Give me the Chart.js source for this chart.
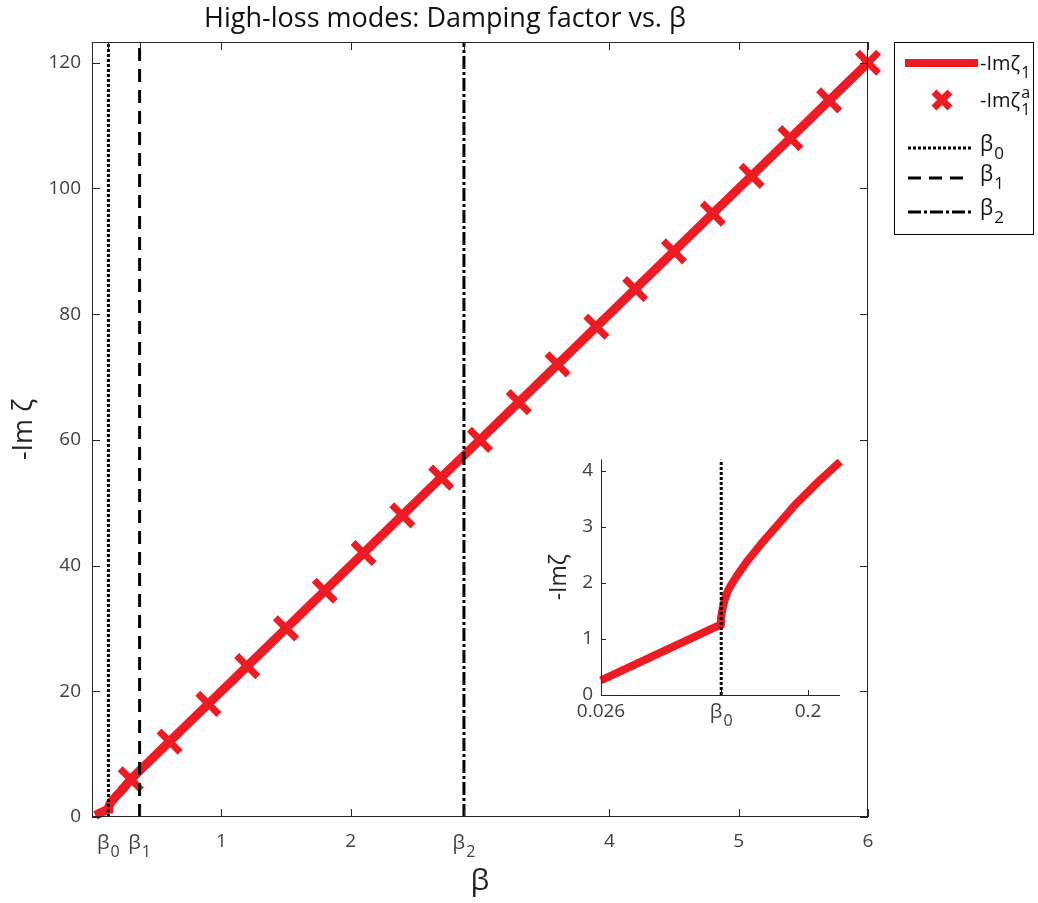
<!DOCTYPE html>
<html>
<head>
<meta charset="utf-8">
<script src="https://cdn.jsdelivr.net/npm/chart.js@4"></script>
<style>
  body { margin: 0; background: #fff; }
  #wrap { position: relative; width: 1038px; height: 903px; }
  #main { position: absolute; left: 0; top: 0; }
  #inset { position: absolute; left: 530px; top: 440px; }
</style>
</head>
<body>
<div id="wrap">
  <canvas id="main" width="1038" height="903"></canvas>
  <canvas id="inset" width="320" height="300"></canvas>
</div>
<script>
// main curve -Im zeta_1
const curveBeta = [0.026, 0.126, 0.128, 0.13, 0.134, 0.148, 0.162, 0.19, 0.227, 0.3, 0.6, 0.9, 1.2, 1.5, 1.8, 2.1, 2.4, 2.7, 3.0, 3.3, 3.6, 3.9, 4.2, 4.5, 4.8, 5.1, 5.4, 5.7, 6.0];
const curveVals = [0.26, 1.27, 1.4, 1.56, 1.91, 2.38, 2.73, 3.41, 4.16, 6, 12, 18, 24, 30, 36, 42, 48, 54, 60, 66, 72, 78, 84, 90, 96, 102, 108, 114, 120];

// asymptotic markers -Im zeta_1^a
const markerBeta = [0.3, 0.6, 0.9, 1.2, 1.5, 1.8, 2.1, 2.4, 2.7, 3.0, 3.3, 3.6, 3.9, 4.2, 4.5, 4.8, 5.1, 5.4, 5.7, 6.0];
const markerVals = [6, 12, 18, 24, 30, 36, 42, 48, 54, 60, 66, 72, 78, 84, 90, 96, 102, 108, 114, 120];

// thresholds
const beta0 = 0.127, beta1 = 0.368, beta2 = 2.876;

// inset curve (zoom near beta0)
const insetBeta = [0.026, 0.126, 0.1268, 0.1278, 0.129, 0.1305, 0.1325, 0.135, 0.14, 0.148, 0.162, 0.176, 0.19, 0.208, 0.227];
const insetVals = [0.26, 1.25, 1.37, 1.5, 1.62, 1.74, 1.85, 1.95, 2.12, 2.36, 2.73, 3.07, 3.41, 3.79, 4.16];

const xTickValues = [beta0, beta1, 1, 2, beta2, 4, 5, 6];
const xTickLabels = ['β0', 'β1', '1', '2', 'β2', '4', '5', '6'];
const yTickValues = [0, 20, 40, 60, 80, 100, 120];
const insetXTickValues = [0.026, beta0, 0.2];
const insetXTickLabels = ['0.026', 'β0', '0.2'];
const insetYTickValues = [0, 1, 2, 3, 4];

const TITLE = 'High-loss modes: Damping factor vs. β';
const RED = '#ED1C24';
const FONT = "'Open Sans', sans-serif";
const TICKCOL = '#404040';
const AXCOL = '#262626';

function pts(xs, ys) { return xs.map((x, i) => ({ x: x, y: ys[i] })); }

// draw a base string with a subscript (and optional superscript)
function drawSub(ctx, base, sub, sup, x, y, size, align) {
  ctx.save();
  ctx.textBaseline = 'alphabetic';
  ctx.textAlign = 'left';
  ctx.font = size + 'px ' + FONT;
  const w1 = ctx.measureText(base).width;
  ctx.font = Math.round(size * 0.8) + 'px ' + FONT;
  const w2 = Math.max(ctx.measureText(sub).width, sup ? ctx.measureText(sup).width : 0);
  let x0 = x;
  if (align === 'center') x0 = x - (w1 + w2 + 1) / 2;
  ctx.font = size + 'px ' + FONT;
  ctx.fillText(base, x0, y);
  ctx.font = Math.round(size * 0.8) + 'px ' + FONT;
  ctx.fillText(sub, x0 + w1 + 1, y + size * 0.4);
  if (sup) ctx.fillText(sup, x0 + w1 + 1, y - size * 0.45);
  ctx.restore();
}

function vline(b, dash, yTop) {
  return {
    data: [{ x: b, y: 0 }, { x: b, y: yTop }],
    borderColor: '#000', borderWidth: 3, borderDash: dash,
    pointRadius: 0, order: 0
  };
}

const mainFrame = {
  id: 'mainFrame',
  afterDraw(chart) {
    const ctx = chart.ctx, a = chart.chartArea;
    const xs = chart.scales.x, ys = chart.scales.y;
    ctx.save();
    // title
    ctx.fillStyle = '#111';
    ctx.font = '27px ' + FONT;
    ctx.textAlign = 'center';
    ctx.textBaseline = 'alphabetic';
    ctx.fillText(TITLE, 445, 27);
    // box + inward ticks
    ctx.strokeStyle = AXCOL;
    ctx.lineWidth = 1;
    ctx.strokeRect(a.left + 0.5, a.top + 0.5, a.right - a.left - 1, a.bottom - a.top - 1);
    ctx.beginPath();
    xTickValues.forEach(v => {
      const px = Math.round(xs.getPixelForValue(v)) + 0.5;
      ctx.moveTo(px, a.bottom); ctx.lineTo(px, a.bottom - 8);
      ctx.moveTo(px, a.top); ctx.lineTo(px, a.top + 8);
    });
    yTickValues.forEach(v => {
      const py = Math.round(ys.getPixelForValue(v)) + 0.5;
      ctx.moveTo(a.left, py); ctx.lineTo(a.left + 8, py);
      ctx.moveTo(a.right, py); ctx.lineTo(a.right - 8, py);
    });
    ctx.stroke();
    // β tick labels
    ctx.fillStyle = TICKCOL;
    xTickLabels.forEach((l, i) => {
      if (l[0] === 'β') drawSub(ctx, 'β', l.slice(1), null, xs.getPixelForValue(xTickValues[i]), a.bottom + 32, 20, 'center');
    });
    // legend
    const lx = 894, ly = 42, lw = 139, lh = 192;
    ctx.strokeStyle = '#000';
    ctx.lineWidth = 1;
    ctx.fillStyle = '#fff';
    ctx.fillRect(lx, ly, lw, lh);
    ctx.strokeRect(lx + 0.5, ly + 0.5, lw, lh);
    ctx.fillStyle = '#111';
    const tx = 980;
    // line entry
    ctx.strokeStyle = RED; ctx.lineWidth = 8; ctx.setLineDash([]);
    ctx.beginPath(); ctx.moveTo(905, 63); ctx.lineTo(978, 63); ctx.stroke();
    drawSub(ctx, '-Imζ', '1', null, tx, 70, 20, 'left');
    // marker entry
    ctx.lineWidth = 7;
    ctx.beginPath();
    ctx.moveTo(934, 92); ctx.lineTo(950, 108);
    ctx.moveTo(950, 92); ctx.lineTo(934, 108);
    ctx.stroke();
    drawSub(ctx, '-Imζ', '1', 'a', tx, 107, 20, 'left');
    // threshold entries
    ctx.strokeStyle = '#000'; ctx.lineWidth = 3;
    [[[3, 2], 148, '0'], [[13, 8], 178, '1'], [[13, 3, 3, 3], 212, '2']].forEach(e => {
      ctx.setLineDash(e[0]);
      ctx.beginPath(); ctx.moveTo(908, e[1]); ctx.lineTo(971, e[1]); ctx.stroke();
      drawSub(ctx, 'β', e[2], null, tx, e[1] + 3, 21, 'left');
    });
    ctx.restore();
  }
};

new Chart(document.getElementById('main').getContext('2d'), {
  type: 'line',
  data: {
    datasets: [
      vline(beta0, [3, 2], 123.3),
      vline(beta1, [13, 8], 123.3),
      vline(beta2, [13, 3, 3, 3], 123.3),
      {
        data: pts(markerBeta, markerVals), showLine: false,
        pointStyle: 'crossRot', pointRadius: 15, pointBorderWidth: 7,
        pointBorderColor: RED, pointBackgroundColor: RED, clip: false, order: 1
      },
      {
        data: pts(curveBeta, curveVals), borderColor: RED, borderWidth: 9,
        pointRadius: 0, clip: false, order: 2, borderCapStyle: 'butt'
      }
    ]
  },
  options: {
    responsive: false,
    animation: false,
    layout: { padding: { left: 0, right: 170, top: 42, bottom: 0 } },
    plugins: {
      legend: { display: false },
      tooltip: { enabled: false },
      title: { display: false }
    },
    scales: {
      x: {
        type: 'linear', min: 0, max: 6,
        afterBuildTicks: s => { s.ticks = xTickValues.map(v => ({ value: v })); },
        afterFit: s => { s.height = 86; },
        grid: { display: false, drawTicks: false },
        border: { display: false },
        ticks: {
          autoSkip: false, maxRotation: 0, padding: 13, color: TICKCOL,
          font: { family: FONT, size: 19 },
          callback: (v, i) => (xTickLabels[i][0] === 'β' ? '' : xTickLabels[i])
        },
        title: {
          display: true, text: 'β', color: AXCOL,
          font: { family: FONT, size: 30 }, padding: { top: 0, bottom: 4 }
        }
      },
      y: {
        type: 'linear', min: 0, max: 123.3,
        afterBuildTicks: s => { s.ticks = yTickValues.map(v => ({ value: v })); },
        afterFit: s => { s.width = 92; },
        grid: { display: false, drawTicks: false },
        border: { display: false },
        ticks: { padding: 11, color: TICKCOL, font: { family: FONT, size: 19 } },
        title: {
          display: true, text: '-Im ζ', color: AXCOL,
          font: { family: FONT, size: 27 }, padding: { top: 8, bottom: 0 }
        }
      }
    }
  },
  plugins: [mainFrame]
});

const insetFrame = {
  id: 'insetFrame',
  afterDraw(chart) {
    const ctx = chart.ctx, a = chart.chartArea;
    const xs = chart.scales.x, ys = chart.scales.y;
    ctx.save();
    ctx.strokeStyle = AXCOL;
    ctx.lineWidth = 1;
    ctx.beginPath();
    ctx.moveTo(a.left + 0.5, a.top); ctx.lineTo(a.left + 0.5, a.bottom + 0.5); ctx.lineTo(a.right, a.bottom + 0.5);
    insetXTickValues.forEach(v => {
      const px = Math.round(xs.getPixelForValue(v)) + 0.5;
      ctx.moveTo(px, a.bottom); ctx.lineTo(px, a.bottom - 5);
    });
    insetYTickValues.forEach(v => {
      const py = Math.round(ys.getPixelForValue(v)) + 0.5;
      ctx.moveTo(a.left, py); ctx.lineTo(a.left + 5, py);
    });
    ctx.stroke();
    ctx.fillStyle = TICKCOL;
    insetXTickLabels.forEach((l, i) => {
      if (l[0] === 'β') drawSub(ctx, 'β', l.slice(1), null, xs.getPixelForValue(insetXTickValues[i]), a.bottom + 23, 20, 'center');
    });
    ctx.restore();
  }
};

new Chart(document.getElementById('inset').getContext('2d'), {
  type: 'line',
  data: {
    datasets: [
      vline(beta0, [3, 2], 4.2),
      {
        data: pts(insetBeta, insetVals), borderColor: RED, borderWidth: 8,
        pointRadius: 0, clip: false, order: 2, borderJoinStyle: 'round'
      }
    ]
  },
  options: {
    responsive: false,
    animation: false,
    layout: { padding: { left: 0, right: 10, top: 17, bottom: 0 } },
    plugins: { legend: { display: false }, tooltip: { enabled: false } },
    scales: {
      x: {
        type: 'linear', min: 0.026, max: 0.2268,
        afterBuildTicks: s => { s.ticks = insetXTickValues.map(v => ({ value: v })); },
        afterFit: s => { s.height = 45; },
        grid: { display: false, drawTicks: false },
        border: { display: false },
        ticks: {
          autoSkip: false, maxRotation: 0, padding: 5, color: TICKCOL,
          font: { family: FONT, size: 19 },
          callback: (v, i) => (insetXTickLabels[i][0] === 'β' ? '' : insetXTickLabels[i])
        }
      },
      y: {
        type: 'linear', min: 0, max: 4.2,
        afterBuildTicks: s => { s.ticks = insetYTickValues.map(v => ({ value: v })); },
        afterFit: s => { s.width = 71; },
        grid: { display: false, drawTicks: false },
        border: { display: false },
        ticks: { padding: 8, color: TICKCOL, font: { family: FONT, size: 19 } },
        title: {
          display: true, text: '-Imζ', color: AXCOL,
          font: { family: FONT, size: 23 }, padding: { top: 16, bottom: 0 }
        }
      }
    }
  },
  plugins: [insetFrame]
});
</script>
</body>
</html>
